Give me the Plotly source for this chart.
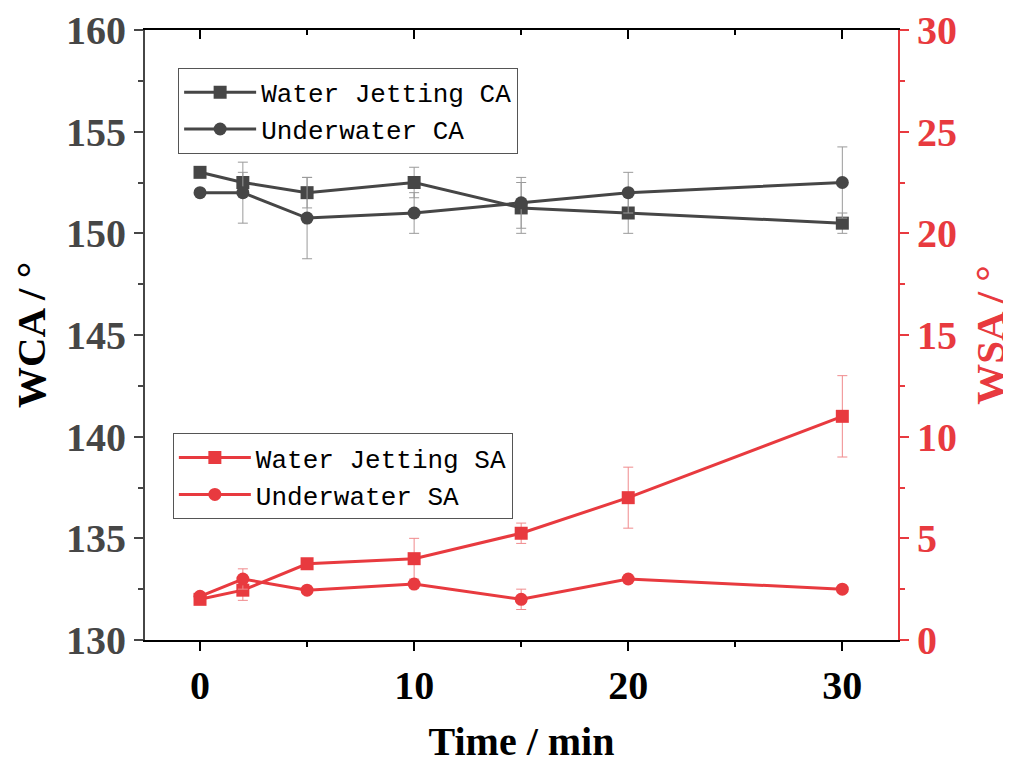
import plotly.graph_objects as go

time = [0, 2, 5, 10, 15, 20, 30]

wj_ca = [153.0, 152.5, 152.0, 152.5, 151.25, 151.0, 150.5]
wj_ca_err = [0, 0.5, 0.75, 0.75, 1.25, 1.0, 0.5]
uw_ca = [152.0, 152.0, 150.75, 151.0, 151.5, 152.0, 152.5]
uw_ca_err = [0, 1.5, 2.0, 1.0, 1.25, 1.0, 1.75]

wj_sa = [2.0, 2.45, 3.75, 4.0, 5.25, 7.0, 11.0]
wj_sa_err = [0, 0.5, 0, 1.0, 0.5, 1.5, 2.0]
uw_sa = [2.15, 3.0, 2.45, 2.75, 2.0, 3.0, 2.5]
uw_sa_err = [0, 0.5, 0, 0, 0.5, 0, 0]

GRAY = "#464646"
RED = "#E83A3F"
SERIF = "Liberation Serif"
MONO = "Liberation Mono"

fig = go.Figure()

def add(y, err, name, symbol, color, ecolor, yaxis, legend):
    fig.add_trace(go.Scatter(
        x=time, y=y, name=name, mode="lines+markers",
        line=dict(color=color, width=3),
        marker=dict(symbol=symbol, size=13, color=color),
        error_y=dict(type="data", array=err, visible=True, color=ecolor,
                     thickness=1, width=5),
        yaxis=yaxis, legend=legend,
    ))

add(wj_ca, wj_ca_err, "Water Jetting CA", "square", GRAY, "#9a9a9a", "y", "legend")
add(uw_ca, uw_ca_err, "Underwater CA", "circle", GRAY, "#9a9a9a", "y", "legend")
add(wj_sa, wj_sa_err, "Water Jetting SA", "square", RED, "#F08A8C", "y2", "legend2")
add(uw_sa, uw_sa_err, "Underwater SA", "circle", RED, "#F08A8C", "y2", "legend2")

# invisible trace so the mirrored top axis gets drawn
fig.add_trace(go.Scatter(x=[time[0]], y=[wj_ca[0]], xaxis="x2", yaxis="y",
                         mode="markers", marker=dict(opacity=0), showlegend=False,
                         hoverinfo="skip"))

xr = [-2.57, 32.6]
tickfont_black = dict(family=SERIF, size=40, color="black", weight="bold")

fig.update_layout(
    width=1011, height=764,
    margin=dict(l=137, r=121, t=22, b=132),
    plot_bgcolor="white", paper_bgcolor="white",
    xaxis=dict(
        range=xr, tickvals=[0, 10, 20, 30], ticks="outside", ticklen=9, tickwidth=2,
        tickcolor="black", showline=True, linecolor="black", linewidth=2,
        showgrid=False, zeroline=False, tickfont=tickfont_black, automargin=False,
        minor=dict(dtick=5, tick0=0, ticks="outside", ticklen=5, tickwidth=2, tickcolor="black"),
        title=dict(text="Time / min", font=dict(family=SERIF, size=40, color="black", weight="bold"),
                   standoff=20),
    ),
    xaxis2=dict(
        range=xr, overlaying="x", side="top", anchor="y", tickvals=[0, 10, 20, 30],
        ticks="inside", ticklen=9, tickwidth=2, tickcolor="black",
        showline=True, linecolor="black", linewidth=2, showgrid=False, zeroline=False,
        showticklabels=False, automargin=False,
        minor=dict(dtick=5, tick0=0, ticks="inside", ticklen=5, tickwidth=2, tickcolor="black"),
    ),
    yaxis=dict(
        range=[130, 160], dtick=5, ticks="outside", ticklen=9, tickwidth=2, tickcolor=GRAY,
        showline=True, linecolor=GRAY, linewidth=2, showgrid=False, zeroline=False,
        tickfont=dict(family=SERIF, size=40, color=GRAY, weight="bold"), automargin=False,
        minor=dict(dtick=2.5, ticks="outside", ticklen=5, tickwidth=2, tickcolor=GRAY),
        title=dict(text="WCA / °", font=dict(family=SERIF, size=41, color="black", weight="bold"),
                   standoff=8),
    ),
    yaxis2=dict(
        range=[0, 30], dtick=5, overlaying="y", side="right", anchor="x",
        ticks="outside", ticklen=9, tickwidth=2, tickcolor=RED,
        showline=True, linecolor=RED, linewidth=2, showgrid=False, zeroline=False,
        tickfont=dict(family=SERIF, size=40, color=RED, weight="bold"), automargin=False,
        minor=dict(dtick=2.5, ticks="outside", ticklen=5, tickwidth=2, tickcolor=RED),
        title=dict(text="WSA / °", font=dict(family=SERIF, size=41, color=RED, weight="bold"),
                   standoff=19),
    ),
    legend=dict(
        x=0.044, y=0.938, xanchor="left", yanchor="top",
        bgcolor="white", bordercolor="#555555", borderwidth=1,
        font=dict(family=MONO, size=26, color="black"),
        tracegroupgap=0, itemwidth=72,
    ),
    legend2=dict(
        x=0.037, y=0.339, xanchor="left", yanchor="top",
        bgcolor="white", bordercolor="#555555", borderwidth=1,
        font=dict(family=MONO, size=26, color="black"),
        tracegroupgap=0, itemwidth=72,
    ),
    showlegend=True,
)

fig.write_html("out.html")
